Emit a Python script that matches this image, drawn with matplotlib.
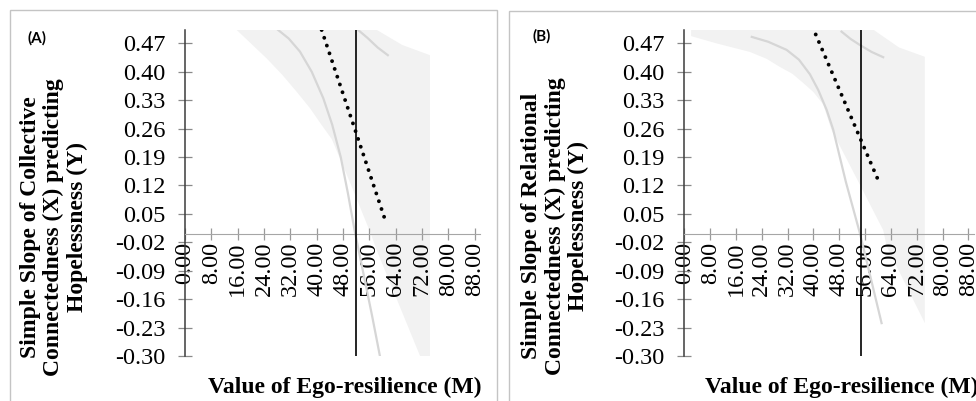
import numpy as np
import matplotlib
matplotlib.use("Agg")
import matplotlib.pyplot as plt
from matplotlib.patches import Rectangle

W, H = 976, 401

# ---- data ----
x_ticks = [0, 8, 16, 24, 32, 40, 48, 56, 64, 72, 80, 88]
x_tick_labels = ["0.00", "8.00", "16.00", "24.00", "32.00", "40.00", "48.00",
                 "56.00", "64.00", "72.00", "80.00", "88.00"]
y_ticks = [0.47, 0.40, 0.33, 0.26, 0.19, 0.12, 0.05, -0.02, -0.09, -0.16, -0.23, -0.30]
y_tick_labels = ["0.47", "0.40", "0.33", "0.26", "0.19", "0.12", "0.05",
                 "-0.02", "-0.09", "-0.16", "-0.23", "-0.30"]

# panel A: collective connectedness
slope_a_x = [41.5, 52.0, 61.0]
slope_a_y = [0.503, 0.249, 0.030]
ci_lo_a_x = [28.3, 31.5, 34.9, 38.5, 42.0, 44.7, 47.3, 49.5, 51.5, 54.4, 56.8, 59.2]
ci_lo_a_y = [0.503, 0.482, 0.450, 0.400, 0.335, 0.270, 0.190, 0.100, 0.010, -0.105, -0.200, -0.300]
ci_hi_a_x = [52.6, 55.5, 58.5, 61.6]
ci_hi_a_y = [0.503, 0.483, 0.460, 0.441]
band_lo_a_x = [15.7, 20.0, 24.8, 29.5, 33.9, 38.0, 41.5, 44.6, 50.5, 56.4, 58.2, 71.4, 74.4]
band_lo_a_y = [0.503, 0.470, 0.433, 0.393, 0.351, 0.310, 0.269, 0.234, 0.120, 0.002, -0.039, -0.300, -0.360]
band_hi_a_x = [15.7, 58.3, 66.0, 74.4]
band_hi_a_y = [0.503, 0.503, 0.466, 0.441]
mean_a = 52.0

# panel B: relational connectedness
slope_b_x = [40.7, 54.7, 60.6]
slope_b_y = [0.492, 0.232, 0.123]
ci_lo_b_x = [20.9, 26.0, 31.7, 35.5, 38.9, 41.5, 44.1, 46.1, 50.0, 54.4, 57.5, 61.1]
ci_lo_b_y = [0.486, 0.474, 0.454, 0.430, 0.394, 0.355, 0.306, 0.258, 0.130, 0.002, -0.100, -0.219]
ci_hi_b_x = [48.7, 51.5, 54.4, 58.0, 61.6]
ci_hi_b_y = [0.499, 0.481, 0.466, 0.449, 0.436]
band_lo_b_x = [2.1, 10.0, 20.3, 25.5, 29.6, 33.5, 36.9, 40.0, 43.0, 45.6, 54.0, 61.6, 62.7, 74.5]
band_lo_b_y = [0.488, 0.470, 0.449, 0.432, 0.412, 0.395, 0.372, 0.350, 0.320, 0.257, 0.128, 0.010, -0.030, -0.219]
band_hi_b_x = [2.1, 58.7, 66.5, 74.5]
band_hi_b_y = [0.503, 0.503, 0.460, 0.437]
mean_b = 54.7

serif = "Liberation Serif"

fig = plt.figure(figsize=(W / 100, H / 100), dpi=100)
fig.patch.set_facecolor("white")

# panel frames
for (x0, y0, x1) in [(10, 10, 497), (509, 11, 990)]:
    fig.add_artist(Rectangle((x0 / W, -0.1), (x1 - x0) / W, 1.1 - y0 / H,
                             transform=fig.transFigure, fill=False,
                             edgecolor="#c4c4c4", linewidth=1.0))


def panel(rect, sx, sy, lox, loy, hix, hiy, blox, bloy, bhix, bhiy, mean):
    ax = fig.add_axes(rect)
    ax.set_facecolor("none")
    px = np.concatenate([blox, bhix[::-1]])
    py = np.concatenate([bloy, bhiy[::-1]])
    ax.fill(px, py, color="#f2f2f2", linewidth=0, zorder=1)
    ax.plot(lox, loy, color="#d6d6d6", linewidth=1.6, zorder=2)
    ax.plot(hix, hiy, color="#d6d6d6", linewidth=1.6, zorder=2)
    ax.plot(sx, sy, color="black", linewidth=2.8, linestyle=(0, (0.01, 2.1)),
            dash_capstyle="round", zorder=3)
    ax.axvline(mean, color="black", linewidth=1.2, zorder=4)

    ax.set_xlim(0, 89.6)
    ax.set_ylim(-0.30, 0.503)
    for s in ["top", "right"]:
        ax.spines[s].set_visible(False)
    ax.spines["bottom"].set_position(("data", 0))
    ax.spines["bottom"].set_color("#a6a6a6")
    ax.spines["left"].set_color("#3c3c3c")
    ax.spines["left"].set_linewidth(1.1)

    ax.set_xticks(x_ticks)
    ax.set_xticklabels(x_tick_labels, rotation=90, fontfamily=serif, fontsize=17.5)
    ax.set_yticks(y_ticks)
    ax.set_yticklabels(y_tick_labels, fontfamily=serif, fontsize=17.5)
    ax.tick_params(axis="x", direction="inout", length=8, width=0.9,
                   color="#9a9a9a", pad=1.5)
    ax.tick_params(axis="y", direction="inout", length=9.6, width=0.9,
                   color="#8a8a8a", pad=9.2)
    return ax


panel([185 / W, 45 / H, 295 / W, 326 / H], slope_a_x, slope_a_y,
      ci_lo_a_x, ci_lo_a_y, ci_hi_a_x, ci_hi_a_y,
      band_lo_a_x, band_lo_a_y, band_hi_a_x, band_hi_a_y, mean_a)
panel([684.3 / W, 45 / H, 289.3 / W, 326 / H], slope_b_x, slope_b_y,
      ci_lo_b_x, ci_lo_b_y, ci_hi_b_x, ci_hi_b_y,
      band_lo_b_x, band_lo_b_y, band_hi_b_x, band_hi_b_y, mean_b)

# panel letters
fig.text(37.5 / W, 1 - 38 / H, "(A)", fontfamily="Lato", fontweight="bold",
         fontsize=11, ha="center", va="center")
fig.text(542 / W, 1 - 36 / H, "(B)", fontfamily="Lato", fontweight="bold",
         fontsize=11, ha="center", va="center")

# axis titles
fig.text(54 / W, 1 - 227 / H,
         "Simple Slope of Collective\nConnectedness (X) predicting\nHopelessness (Y)",
         rotation=90, ha="center", va="center", multialignment="center",
         fontfamily=serif, fontweight="bold", fontsize=17, linespacing=1.12)
fig.text(555 / W, 1 - 226 / H,
         "Simple Slope of Relational\nConnectedness (X) predicting\nHopelessness (Y)",
         rotation=90, ha="center", va="center", multialignment="center",
         fontfamily=serif, fontweight="bold", fontsize=17, linespacing=1.12)
fig.text(208 / W, 1 - 392.5 / H, "Value of Ego-resilience (M)",
         ha="left", va="baseline", fontfamily=serif, fontweight="bold", fontsize=17)
fig.text(705 / W, 1 - 392.5 / H, "Value of Ego-resilience (M)",
         ha="left", va="baseline", fontfamily=serif, fontweight="bold", fontsize=17)

fig.savefig("out.png", dpi=100)
